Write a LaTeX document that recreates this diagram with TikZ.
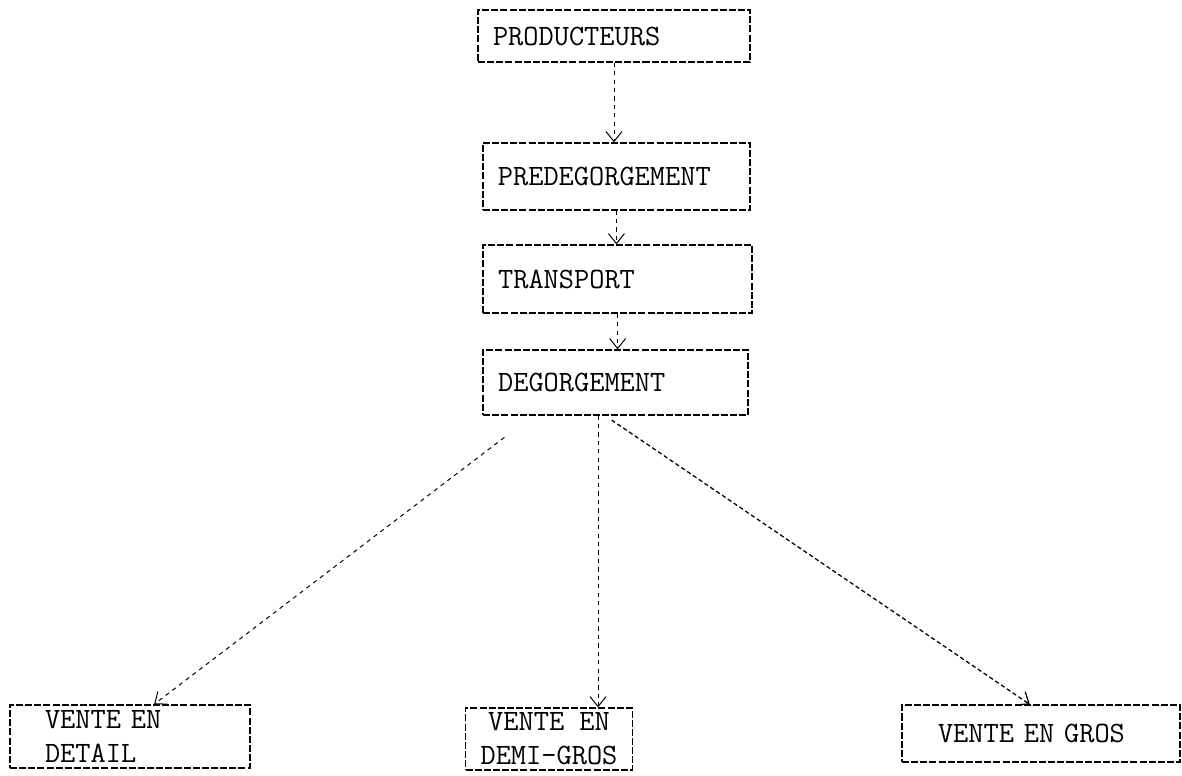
\documentclass[tikz,border=0pt]{standalone}
\usepackage{fontspec}
\usetikzlibrary{positioning,calc,arrows.meta}
\tikzset{
  etape/.style={draw, dash pattern=on 5pt off 1.5pt, line width=0.9pt, align=left, inner xsep=0.375cm, inner ysep=0.1cm},
  fleche/.style={->, dashed, line width=0.7pt},
  trait/.style={->, densely dashed, line width=0.9pt}
}
\begin{document}
\begin{tikzpicture}[font=\ttfamily\fontsize{21}{24}\selectfont, >={Straight Barb[length=0.25cm,width=0.4cm]}]
  \useasboundingbox (0,0) rectangle (29.55,-19.4);

  \node [etape, text width=6.05cm, minimum height=1.3cm] (prod) at (15.35,-0.9) {PRODUCTEURS};
  \node [etape, text width=5.925cm, minimum height=1.675cm] (pred) at (15.41,-4.41) {PREDEGORGEMENT};
  \node [etape, text width=5.975cm, minimum height=1.7cm] (trans) at (15.44,-6.975) {TRANSPORT};
  \node [etape, text width=5.875cm, minimum height=1.625cm] (deg) at (15.39,-9.56) {DEGORGEMENT};

  \node [etape, inner xsep=0.875cm, text width=4.25cm, minimum height=1.575cm] (detail) at (3.25,-18.41) {VENTE EN\\DETAIL};
  \node [etape, align=center, minimum width=3.95cm, minimum height=1.55cm] (demi) at (13.725,-18.475) {VENTE EN\\DEMI-GROS};
  \node [etape, inner xsep=0.9cm, text width=5.15cm, minimum height=1.425cm] (gros) at (26.025,-18.34) {VENTE EN GROS};

  \draw [fleche] (prod.south) -- (prod.south |- pred.north);
  \draw [fleche] (pred.south) -- (pred.south |- trans.north);
  \draw [fleche] (trans.south) -- (trans.south |- deg.north);

  \coordinate (dg) at ($(deg.south west)!0.19!(deg.south east)$);
  \coordinate (dm) at ($(deg.south west)!0.434!(deg.south east)$);
  \coordinate (dd) at ($(deg.south west)!0.46!(deg.south east)$);
  \draw [fleche, shorten <=0.9cm] (dg) -- ($(detail.north west)!0.6!(detail.north east)$);
  \draw [fleche] (dm) -- (dm |- demi.north);
  \draw [trait, shorten <=0.2cm] (dd) -- ($(gros.north west)!0.46!(gros.north east)$);
\end{tikzpicture}
\end{document}
